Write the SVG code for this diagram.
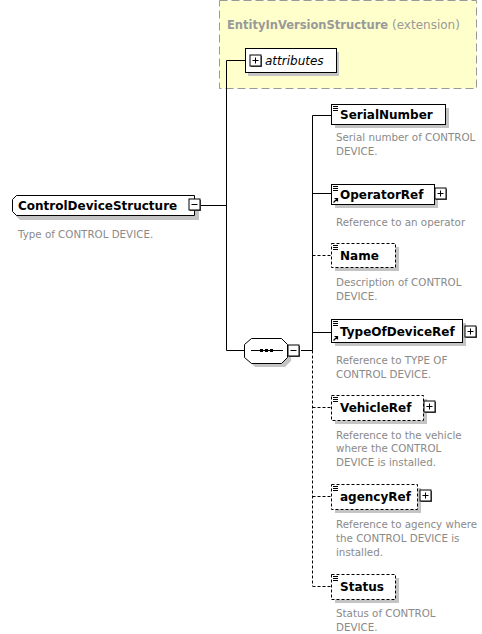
<svg xmlns="http://www.w3.org/2000/svg" width="482" height="634" viewBox="0 0 482 634">
  <style>
    .lbl { font-family: "DejaVu Sans", Verdana, sans-serif; font-weight: bold; font-size: 12px; fill: #000; }
    .doc { font-family: "DejaVu Sans", Verdana, sans-serif; font-size: 10.3px; fill: #8a8a8a; }
    .box { fill: #fff; stroke: #000; stroke-width: 1; }
    .opt { fill: #fff; stroke: #000; stroke-width: 1; stroke-dasharray: 3 2; }
    .shadow { fill: #c4c4c4; stroke: none; }
    .line { stroke: #000; stroke-width: 1; fill: none; }
    .dash { stroke: #000; stroke-width: 1; fill: none; stroke-dasharray: 3 2; }
    .btn { fill: #fff; stroke: #000; stroke-width: 1; }
  </style>
  <defs>
    <!-- expand (+) button -->
    <g id="plus">
      <rect x="1" y="1" width="11" height="11" fill="#555"/>
      <rect x="0" y="0" width="11" height="11" class="btn"/>
      <path d="M2.5 5.5h6M5.5 2.5v6" class="line"/>
    </g>
    <!-- collapse (-) button -->
    <g id="minus">
      <rect x="1" y="1" width="11" height="11" fill="#555"/>
      <rect x="0" y="0" width="11" height="11" class="btn"/>
      <path d="M2.5 5.5h6" class="line"/>
    </g>
    <!-- simple content marker -->
    <g id="content">
      <path d="M0 0.5h5M0 2.5h5M0 4.5h5" stroke="#000" stroke-width="1"/>
    </g>
    <!-- reference marker -->
    <g id="refmark">
      <path d="M0.5 5.5L4.5 1.5M1.5 1.5h3v3" stroke="#000" stroke-width="1.2" fill="none"/>
    </g>
  </defs>

  <!-- base type extension -->
  <g id="extension">
    <rect x="219.5" y="0.5" width="257" height="88" fill="#ffffcc" stroke="#999" stroke-dasharray="8 4"/>
    <text x="227" y="29" style="font-family:'DejaVu Sans',Verdana,sans-serif;font-size:11.5px;fill:#999"><tspan font-weight="bold">EntityInVersionStructure</tspan><tspan font-size="12px"> (extension)</tspan></text>
  </g>

  <g id="attributes">
    <rect x="248" y="52" width="91" height="24" class="shadow"/>
    <rect x="245.5" y="48.5" width="91" height="24" class="box"/>
    <use href="#plus" x="250" y="55"/>
    <text x="265" y="65" style="font-family:'DejaVu Sans',Verdana,sans-serif;font-style:italic;font-size:12px;fill:#000">attributes</text>
  </g>

  <!-- connectors -->
  <g id="connectors">
    <path d="M201 205.5H226.5M226.5 60.5V350.5M226.5 60.5H245M226.5 350.5H244" class="line"/>
    <path d="M301 350.5H312.5M312.5 115.5V350.5" class="line"/>
    <path d="M312.5 350.5V586" class="dash"/>
    <path d="M312.5 115.5H331M312.5 193.5H331M312.5 332.5H331" class="line"/>
    <path d="M312.5 255.5H331M312.5 407.5H331M312.5 496.5H331M312.5 586.5H331" class="dash"/>
  </g>

  <!-- root complex type -->
  <g id="ControlDeviceStructure">
    <path d="M20 200H199V220H20L16 216V204Z" class="shadow"/>
    <path d="M16.5 195.5H194.5V215.5H16.5L12.5 211.5V199.5Z" class="box"/>
    <use href="#minus" x="189" y="199"/>
    <text x="18" y="210" class="lbl">ControlDeviceStructure</text>
    <text x="18" y="238" class="doc">Type of CONTROL DEVICE.</text>
  </g>

  <!-- sequence compositor -->
  <g id="sequence">
    <path d="M255 342H285L291 348V361L285 367H255L249 361V348Z" class="shadow"/>
    <path d="M251.5 338.5H281.5L287.5 344.5V357.5L281.5 363.5H251.5L244.5 357.5V344.5Z" class="box"/>
    <path d="M251 350.5H283" class="line"/>
    <rect x="260" y="349" width="3" height="3" fill="#000"/>
    <rect x="265" y="349" width="3" height="3" fill="#000"/>
    <rect x="270" y="349" width="3" height="3" fill="#000"/>
    <use href="#minus" x="288" y="345"/>
  </g>

  <g id="SerialNumber">
    <rect x="335" y="108" width="114" height="20" class="shadow"/>
    <rect x="331.5" y="104.5" width="114" height="20" class="box"/>
    <use href="#content" x="333" y="106"/>
    <text x="340" y="119" class="lbl" font-size="12.5px">SerialNumber</text>
    <text x="336" y="141" class="doc">Serial number of CONTROL</text>
    <text x="336" y="155" class="doc">DEVICE.</text>
  </g>

  <g id="OperatorRef">
    <rect x="335" y="188" width="103" height="20" class="shadow"/>
    <rect x="331.5" y="184.5" width="103" height="20" class="box"/>
    <use href="#content" x="333" y="186"/>
    <use href="#refmark" x="333" y="197"/>
    <text x="340" y="199" class="lbl">OperatorRef</text>
    <use href="#plus" x="435" y="188"/>
    <text x="336" y="226" class="doc">Reference to an operator</text>
  </g>

  <g id="Name">
    <rect x="335" y="247" width="64" height="24" class="shadow"/>
    <rect x="331.5" y="243.5" width="64" height="24" class="opt"/>
    <use href="#content" x="333" y="245"/>
    <text x="340" y="260" class="lbl">Name</text>
    <text x="336" y="286" class="doc">Description of CONTROL</text>
    <text x="336" y="300" class="doc">DEVICE.</text>
  </g>

  <g id="TypeOfDeviceRef">
    <rect x="335" y="323" width="131" height="23" class="shadow"/>
    <rect x="331.5" y="319.5" width="131" height="23" class="box"/>
    <use href="#content" x="333" y="321"/>
    <use href="#refmark" x="333" y="335"/>
    <text x="340" y="336" class="lbl">TypeOfDeviceRef</text>
    <use href="#plus" x="465" y="326"/>
    <text x="336" y="364" class="doc">Reference to TYPE OF</text>
    <text x="336" y="378" class="doc">CONTROL DEVICE.</text>
  </g>

  <g id="VehicleRef">
    <rect x="335" y="399" width="92" height="25" class="shadow"/>
    <rect x="331.5" y="395.5" width="92" height="25" class="opt"/>
    <use href="#content" x="333" y="397"/>
    <text x="340" y="412" class="lbl">VehicleRef</text>
    <use href="#plus" x="424" y="401"/>
    <text x="336" y="439" class="doc">Reference to the vehicle</text>
    <text x="336" y="452" class="doc">where the CONTROL</text>
    <text x="336" y="466" class="doc">DEVICE is installed.</text>
  </g>

  <g id="agencyRef">
    <rect x="335" y="488" width="86" height="25" class="shadow"/>
    <rect x="331.5" y="484.5" width="86" height="25" class="opt"/>
    <use href="#content" x="333" y="486"/>
    <text x="340" y="501" class="lbl">agencyRef</text>
    <use href="#plus" x="420" y="490"/>
    <text x="336" y="528" class="doc">Reference to agency where</text>
    <text x="336" y="542" class="doc">the CONTROL DEVICE is</text>
    <text x="336" y="556" class="doc">installed.</text>
  </g>

  <g id="Status">
    <rect x="335" y="578" width="64" height="25" class="shadow"/>
    <rect x="331.5" y="574.5" width="64" height="25" class="opt"/>
    <use href="#content" x="333" y="576"/>
    <text x="340" y="591" class="lbl">Status</text>
    <text x="336" y="617" class="doc">Status of CONTROL</text>
    <text x="336" y="631" class="doc">DEVICE.</text>
  </g>
</svg>
